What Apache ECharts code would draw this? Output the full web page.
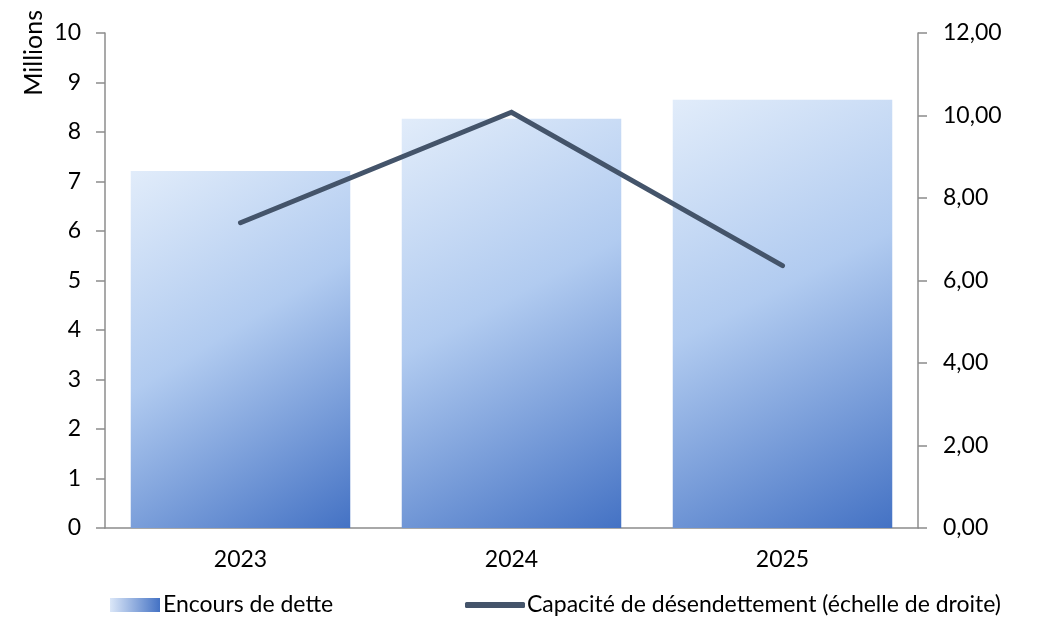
<!DOCTYPE html>
<html>
<head>
<meta charset="utf-8">
<script src="https://cdn.jsdelivr.net/npm/echarts@6/dist/echarts.min.js"></script>
<style>
html,body{margin:0;padding:0;background:#fff;}
#main{width:1039px;height:619px;}
</style>
</head>
<body>
<div id="main"></div>
<script>
var categories = ['2023', '2024', '2025'];
var encoursDette = [7.21, 8.27, 8.65];
var capaciteDesendettement = [7.40, 10.08, 6.36];
var leftTicks = [0, 10, 1];
var rightTicks = [0, 12, 2];

var FONT = 'Lato';
var chart = echarts.init(document.getElementById('main'));
var barGradient = new echarts.graphic.LinearGradient(0, 0, 1, 1, [
  {offset: 0, color: '#e1ecfa'},
  {offset: 0.45, color: '#b1cbf0'},
  {offset: 1, color: '#4472c4'}
]);
var legendGradient = new echarts.graphic.LinearGradient(0, 0, 1, 0, [
  {offset: 0, color: '#dbe7f8'},
  {offset: 1, color: '#4472c4'}
]);
var axisColor = '#8c8c8c';
var barName = 'Encours de dette';
var lineName = 'Capacité de désendettement (échelle de droite)';
chart.setOption({
  backgroundColor: '#ffffff',
  animation: false,
  textStyle: {fontFamily: FONT},
  grid: {left: 105, right: 121, top: 33, bottom: 91, containLabel: false},
  legend: [{
    left: 110, top: 589, padding: [2, 5, 2, 0],
    itemWidth: 50, itemHeight: 14,
    textStyle: {fontFamily: FONT, fontSize: 23, color: '#000', lineHeight: 28, padding: [0, 0, 0, -2]},
    data: [{name: barName, icon: 'rect', itemStyle: {color: legendGradient}}]
  }, {
    left: 465, top: 589, padding: [2, 5, 2, 0],
    itemWidth: 60, itemHeight: 6,
    textStyle: {fontFamily: FONT, fontSize: 23, color: '#000', lineHeight: 28, padding: [0, 0, 0, -3]},
    data: [{name: lineName, icon: 'roundRect', itemStyle: {color: '#44546a'}}]
  }],
  graphic: [{
    type: 'text', left: 21, top: 10, rotation: Math.PI / 2,
    style: {text: 'Millions', font: '25px ' + FONT, fill: '#000'}
  }],
  xAxis: {
    type: 'category', data: categories,
    axisLine: {lineStyle: {color: axisColor, width: 1.5}},
    axisTick: {show: false},
    axisLabel: {fontSize: 23, color: '#000', margin: 20}
  },
  yAxis: [{
    type: 'value', min: leftTicks[0], max: leftTicks[1], interval: leftTicks[2],
    axisLine: {show: true, lineStyle: {color: axisColor, width: 1.5}},
    axisTick: {show: true, length: 9, lineStyle: {color: axisColor, width: 1.5}},
    splitLine: {show: false},
    axisLabel: {fontSize: 23, color: '#000', margin: 24}
  }, {
    type: 'value', min: rightTicks[0], max: rightTicks[1], interval: rightTicks[2],
    position: 'right',
    axisLine: {show: true, lineStyle: {color: axisColor, width: 1.5}},
    axisTick: {show: true, length: 9, lineStyle: {color: axisColor, width: 1.5}},
    splitLine: {show: false},
    axisLabel: {fontSize: 23, color: '#000', margin: 25,
      formatter: function (v) { return v.toFixed(2).replace('.', ','); }}
  }],
  series: [{
    name: barName, type: 'bar', data: encoursDette,
    yAxisIndex: 0, barCategoryGap: '19%',
    itemStyle: {color: barGradient}
  }, {
    name: lineName, type: 'line',
    data: capaciteDesendettement, yAxisIndex: 1,
    symbol: 'none', color: '#44546a',
    lineStyle: {color: '#44546a', width: 5, cap: 'round', join: 'miter'}
  }]
});
</script>
</body>
</html>
